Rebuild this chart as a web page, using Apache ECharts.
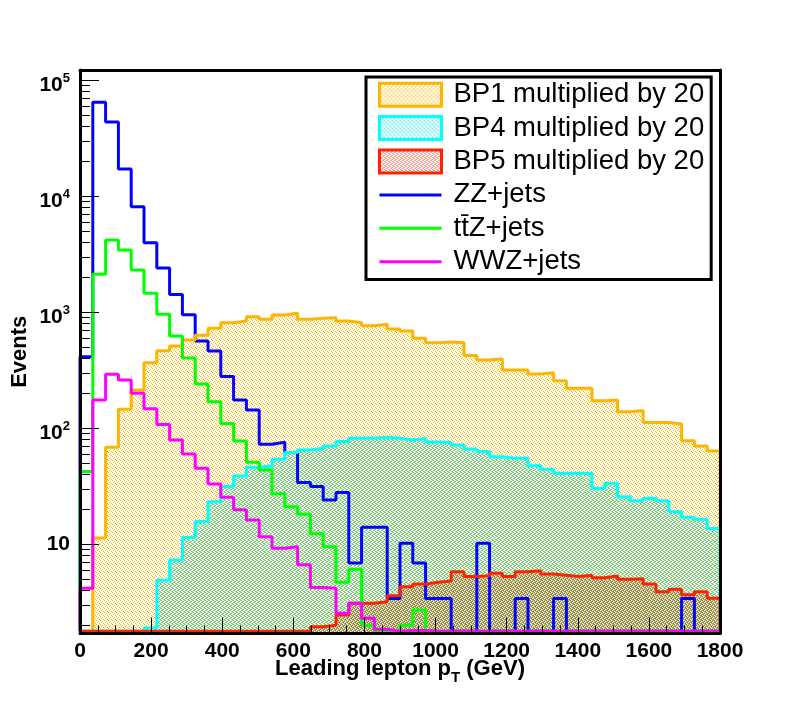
<!DOCTYPE html>
<html lang="en">
<head>
<meta charset="UTF-8">
<title>Leading lepton pT</title>
<script src="https://cdn.jsdelivr.net/npm/echarts@6/dist/echarts.min.js"></script>
<style>
html,body{margin:0;padding:0;background:#fff}
#chartBox{width:800px;height:704px}
</style>
</head>
<body>
<div id="chartBox"></div>
<script>
// bin edges (GeV), 50 bins
const BIN_EDGES = [0,36,72,108,144,180,216,252,288,324,360,396,432,468,504,540,576,612,648,684,
    720,756,792,828,864,900,936,972,1008,1044,1080,1116,1152,1188,1224,1260,1296,1332,1368,1404,
    1440,1476,1512,1548,1584,1620,1656,1692,1728,1764,1800];

const BP1 = [0,11.3,68.6,146,214,368,467,512,577,634,728,813,841,916,870,948,980,870,888,899,
    841,813,766,788,718,690,597,547,555,547,423,388,395,318,318,294,301,257,221,221,
    173,175,139,142,112,112,109,78.2,70.3,63.7];
const BP4 = [0,0,0,0,0,1.9,4.9,7.3,11.5,15.7,23.3,31.4,38.8,46.1,47.6,54.1,61.7,65.0,67.3,70.3,
    76.7,82.1,82.1,83.6,82.1,79.3,81.6,76.2,75.5,71.8,66.4,62.9,56.9,55.0,55.0,47.6,44.4,41.0,41.0,41.0,
    30.4,33.6,25.7,23.7,24.9,23.7,19.1,17.1,16.4,13.7];
const BP5 = [0,0,0,0,0,0,0,0,0,0,0,0,0,0,0,0,0,0,1.94,2.0,
    2.46,3.1,3.1,3.2,3.6,4.3,4.55,4.7,4.82,5.8,5.26,5.36,5.62,5.26,5.8,5.92,5.54,5.4,5.26,5.4,
    5.15,5.33,5.0,5.05,4.55,3.9,4.1,3.66,3.9,3.42];
const ZZ = [414,64600,43600,17200,8120,3980,2410,1420,953,566,464,279,175,144,72.8,75.7,61.7,34.0,31.4,24.1,
    27.9,6.9,14.0,14.0,3.4,10.2,6.9,3.4,3.4,0,0,10.2,0,0,3.4,0,0,3.4,0,0,
    0,0,0,0,0,0,0,3.4,0,0];
const TTZ = [42.3,2130,4200,3440,2310,1460,962,625,404,241,169,110,77.6,50.9,43.7,27.2,21.1,18.1,12.3,9.5,
    4.7,6.1,2.0,0,0,2.0,2.7,0,0,0,0,0,0,0,0,0,0,0,0,0,
    0,0,0,0,0,0,0,0,0,0];
const WWZ = [4.18,175,292,261,200,147,108,79.2,60.1,45.2,33.1,25.4,19.8,16.2,11.6,9.25,9.5,6.64,4.23,4.18,
    2.54,3.1,2.3,1.85,0,1.8,1.8,0,0,0,0,0,0,0,0,0,0,0,0,0,
    0,0,0,0,0,0,0,0,0,0];

const Y_MAJOR = [10,100,1000,10000,100000];
const Y_MINOR = [2,3,4,5,6,7,8,9,20,30,40,50,60,70,80,90,200,300,400,500,600,700,800,900,
    2000,3000,4000,5000,6000,7000,8000,9000,20000,30000,40000,50000,60000,70000,80000,90000];

const Y_MIN = 1.7, Y_MAX = 122700;
const EMPTY = 1.78;   // empty bins sit on the bottom of the log pad
const FONT = 'Liberation Sans';

// stipple fill like ROOT's 3xxx fill styles; each shift uses its own pixels
const DOTS = [[0, 0], [2, 1], [1, 2], [3, 3]];
function stipple(color, shift) {
    const c = document.createElement('canvas');
    c.width = 4; c.height = 4;
    const g = c.getContext('2d');
    g.fillStyle = color;
    DOTS.forEach(d => g.fillRect((d[0] + shift) % 4, d[1], 1, 1));
    return {image: c, repeat: 'repeat'};
}

// histogram outline points for a step line
function histo(vals) {
    const n = vals.length;
    const pts = [[BIN_EDGES[0], EMPTY]];
    vals.forEach((v, i) => pts.push([BIN_EDGES[i], v > 0 ? v : EMPTY]));
    pts.push([BIN_EDGES[n], vals[n - 1] > 0 ? vals[n - 1] : EMPTY]);
    pts.push([BIN_EDGES[n], EMPTY]);
    return pts;
}

function lineSeries(name, vals, color, fill) {
    const s = {
        type: 'line', name: name, step: 'end', symbol: 'none', showSymbol: false,
        data: histo(vals), color: color,
        lineStyle: {color: color, width: 3},
        silent: true, animation: false
    };
    if (fill) s.areaStyle = {color: fill, opacity: 1, origin: 'start'};
    return s;
}

const cOrange = '#ffb400', cCyan = '#00ffff', cRed = '#ff2200';
const pOrange = stipple(cOrange, 0), pCyan = stipple('#00e8f0', 1), pRed = stipple('#ff4020', 2);
const LINE_ICON = 'path://M0,10H62V13H0Z';

const logAxis = {type: 'log', logBase: 10, min: Y_MIN, max: Y_MAX, splitLine: {show: false}};

const option = {
    animation: false,
    grid: {left: 80, right: 80, top: 70, bottom: 70.5, containLabel: false, outerBoundsMode: 'none'},
    xAxis: [{
        type: 'value', min: 0, max: 1800, interval: 200, z: 10,
        axisLine: {lineStyle: {color: '#000', width: 3}},
        axisTick: {inside: true, length: 16, lineStyle: {color: '#000', width: 1}},
        minorTick: {show: true, splitNumber: 4, length: 8, lineStyle: {color: '#000', width: 1}},
        splitLine: {show: false},
        axisLabel: {margin: 7, fontFamily: FONT, fontWeight: 'bold', fontSize: 21, color: '#000',
            formatter: v => String(v)},
        name: '{n|Leading lepton p}{s|T}{n| (GeV)}',
        nameLocation: 'middle', nameGap: 19, nameMoveOverlap: false,
        nameTextStyle: {
            rich: {
                n: {fontFamily: FONT, fontWeight: 'bold', fontSize: 22, color: '#000'},
                s: {fontFamily: FONT, fontWeight: 'bold', fontSize: 15, color: '#000', padding: [18, 0, 0, 0]}
            }
        }
    }, {
        type: 'value', min: 0, max: 1800, position: 'top', z: 10,
        axisLine: {lineStyle: {color: '#000', width: 3}},
        axisTick: {show: false}, axisLabel: {show: false}, splitLine: {show: false}
    }],
    yAxis: [Object.assign({}, logAxis, {
        position: 'left', z: 10,
        axisLine: {show: true, lineStyle: {color: '#000', width: 3}},
        axisTick: {inside: true, length: 19, customValues: Y_MAJOR, lineStyle: {color: '#000', width: 1}},
        axisLabel: {
            customValues: Y_MAJOR, margin: 10,
            formatter: function (v) {
                const e = Math.round(Math.log10(v));
                return e === 1 ? '{c|10}' : '{b|10}{s|' + e + '}';
            },
            rich: {
                c: {fontFamily: FONT, fontWeight: 'bold', fontSize: 21, color: '#000'},
                b: {fontFamily: FONT, fontWeight: 'bold', fontSize: 21, color: '#000', padding: [9, 0, 0, 0]},
                s: {fontFamily: FONT, fontWeight: 'bold', fontSize: 13, color: '#000', padding: [0, 0, 3, 0]}
            }
        },
        name: 'Events', nameLocation: 'middle', nameRotate: 90, nameGap: 49, nameMoveOverlap: false,
        nameTextStyle: {fontFamily: FONT, fontWeight: 'bold', fontSize: 22, color: '#000'}
    }), Object.assign({}, logAxis, {
        position: 'left', z: 10,
        axisLine: {show: false},
        axisTick: {inside: true, length: 10, customValues: Y_MINOR, lineStyle: {color: '#000', width: 1}},
        axisLabel: {show: false}
    }), Object.assign({}, logAxis, {
        position: 'right', z: 10,
        axisLine: {show: true, lineStyle: {color: '#000', width: 3}},
        axisTick: {show: false}, axisLabel: {show: false}
    })],
    legend: {
        left: 366, top: 77, orient: 'vertical',
        selectedMode: false,
        backgroundColor: '#fff', borderColor: '#000', borderWidth: 3,
        padding: [1, 7, 1, 12],
        itemWidth: 62, itemHeight: 23, itemGap: 0,
        textStyle: {fontFamily: FONT, fontSize: 27.5, color: '#000', lineHeight: 33.4, padding: [0, 0, 0, 7]},
        data: [
            {name: 'BP1 multiplied by 20', icon: 'rect', itemStyle: {color: pOrange, borderColor: cOrange, borderWidth: 3}},
            {name: 'BP4 multiplied by 20', icon: 'rect', itemStyle: {color: pCyan, borderColor: cCyan, borderWidth: 3}},
            {name: 'BP5 multiplied by 20', icon: 'rect', itemStyle: {color: pRed, borderColor: cRed, borderWidth: 3}},
            {name: 'ZZ+jets', icon: LINE_ICON, itemStyle: {color: '#0000ff', borderWidth: 0}},
            {name: 't\u0074\u0304Z+jets', icon: LINE_ICON, itemStyle: {color: '#00ff00', borderWidth: 0}},
            {name: 'WWZ+jets', icon: LINE_ICON, itemStyle: {color: '#ff00ff', borderWidth: 0}}
        ]
    },
    series: [
        lineSeries('ZZ+jets', ZZ, '#0000ff'),
        lineSeries('BP1 multiplied by 20', BP1, cOrange, pOrange),
        lineSeries('BP4 multiplied by 20', BP4, cCyan, pCyan),
        lineSeries('BP5 multiplied by 20', BP5, cRed, pRed),
        lineSeries('t\u0074\u0304Z+jets', TTZ, '#00ff00'),
        lineSeries('WWZ+jets', WWZ, '#ff00ff')
    ]
};

const chartObj = echarts.init(document.getElementById('chartBox'));
chartObj.setOption(option);
</script>
</body>
</html>
